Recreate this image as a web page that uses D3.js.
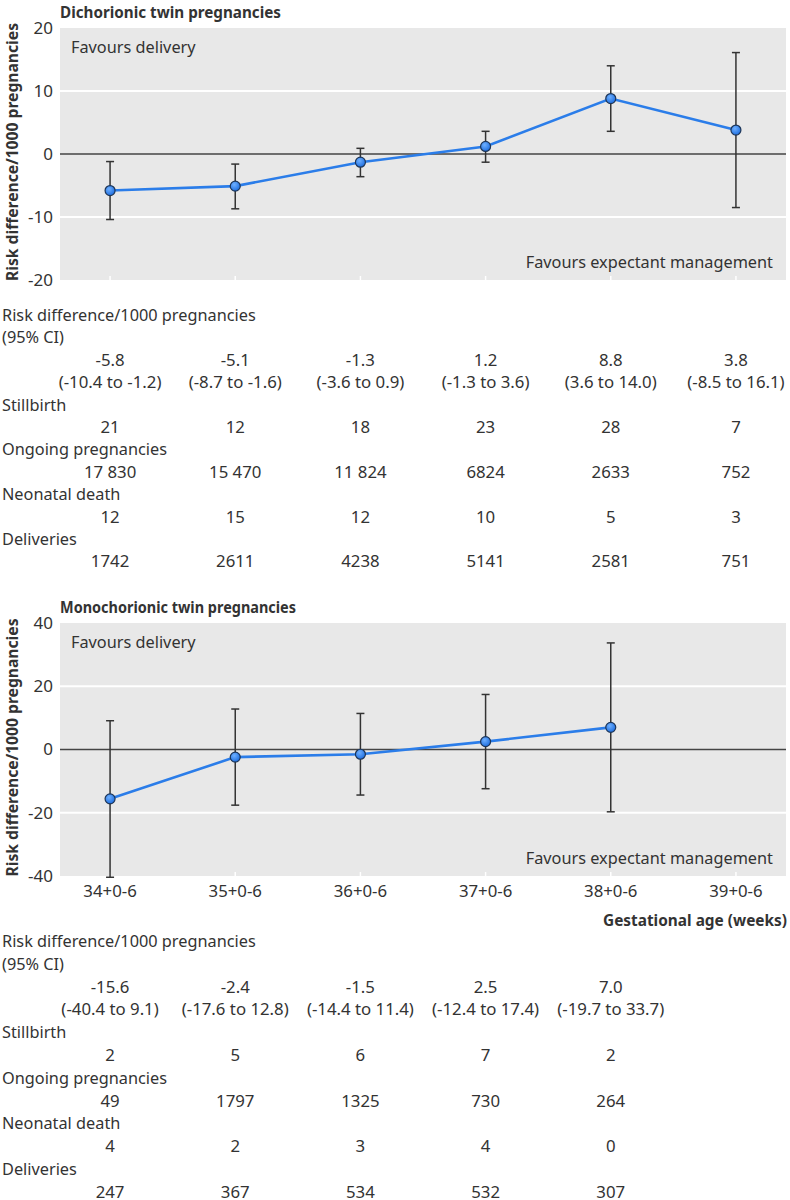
<!DOCTYPE html>
<html>
<head>
<meta charset="utf-8">
<script src="https://cdn.jsdelivr.net/npm/d3@7"></script>
<style>
  body { margin: 0; background: #fff; }
  svg text { font-family: "Noto Sans", sans-serif; fill: #333; }
</style>
</head>
<body>
<script>
// gestational age categories
const weeks = ["34+0-6", "35+0-6", "36+0-6", "37+0-6", "38+0-6", "39+0-6"];

// dichorionic twins
const diEst = [-5.8, -5.1, -1.3, 1.2, 8.8, 3.8];
const diLow = [-10.4, -8.7, -3.6, -1.3, 3.6, -8.5];
const diHigh = [-1.2, -1.6, 0.9, 3.6, 14.0, 16.1];
const diStillbirth = ["21", "12", "18", "23", "28", "7"];
const diOngoing = ["17 830", "15 470", "11 824", "6824", "2633", "752"];
const diNeonatal = ["12", "15", "12", "10", "5", "3"];
const diDeliveries = ["1742", "2611", "4238", "5141", "2581", "751"];
const diTicks = [20, 10, 0, -10, -20];

// monochorionic twins
const moEst = [-15.6, -2.4, -1.5, 2.5, 7.0];
const moLow = [-40.4, -17.6, -14.4, -12.4, -19.7];
const moHigh = [9.1, 12.8, 11.4, 17.4, 33.7];
const moStillbirth = ["2", "5", "6", "7", "2"];
const moOngoing = ["49", "1797", "1325", "730", "264"];
const moNeonatal = ["4", "2", "3", "4", "0"];
const moDeliveries = ["247", "367", "534", "532", "307"];
const moTicks = [40, 20, 0, -20, -40];

const width = 790, height = 1200;
const left = 60, right = 786;
const fs = 16.3;   // labels
const fv = 16.8;   // table numbers

const svg = d3.select("body").append("svg")
  .attr("width", width).attr("height", height);

const defs = svg.append("defs");
const grad = defs.append("radialGradient").attr("id", "dot")
  .attr("cx", "40%").attr("cy", "35%").attr("r", "65%");
grad.append("stop").attr("offset", "0%").attr("stop-color", "#6fb0ff");
grad.append("stop").attr("offset", "100%").attr("stop-color", "#1f6fe0");

const x = d3.scalePoint().domain(weeks).range([left, right]).padding(0.4);

// plain hyphen for negatives, as in the original
function fmt(v) { return v.toFixed(1); }

function drawPanel(p) {
  const g = svg.append("g");
  const y = d3.scaleLinear().domain([p.ticks[p.ticks.length - 1], p.ticks[0]])
    .range([p.bottom, p.top]);

  g.append("text").attr("x", left).attr("y", p.top - 10)
    .attr("font-size", 15.5).attr("font-weight", "bold").attr("fill", "#222")
    .attr("textLength", p.titleLen).attr("lengthAdjust", "spacingAndGlyphs")
    .text(p.title);

  g.append("rect").attr("x", left).attr("y", p.top)
    .attr("width", right - left).attr("height", p.bottom - p.top)
    .attr("fill", "#e8e8e8");

  // white grid lines
  g.selectAll(".grid").data(p.ticks.filter(t => t !== 0 && t !== p.ticks[0] && t !== p.ticks[p.ticks.length - 1]))
    .join("line")
    .attr("x1", left).attr("x2", right)
    .attr("y1", d => y(d)).attr("y2", d => y(d))
    .attr("stroke", "#fff").attr("stroke-width", 2);

  // white tick marks at the bottom
  g.selectAll(".xt").data(weeks).join("line")
    .attr("x1", d => x(d)).attr("x2", d => x(d))
    .attr("y1", p.bottom - 4).attr("y2", p.bottom)
    .attr("stroke", "#fff").attr("stroke-width", 1.5);

  g.append("line").attr("x1", left).attr("x2", right)
    .attr("y1", y(0)).attr("y2", y(0))
    .attr("stroke", "#444").attr("stroke-width", 1.5);

  const ya = g.append("g").attr("transform", `translate(${left},0)`)
    .call(d3.axisLeft(y).tickValues(p.ticks).tickSize(0).tickPadding(7)
      .tickFormat(d => String(d)));
  ya.select(".domain").remove();
  ya.selectAll("text").attr("font-size", 17).attr("fill", "#333")
    .style("font-family", "'Noto Sans', sans-serif");

  g.append("text")
    .attr("transform", `translate(18,${(p.top + p.bottom) / 2 - 2}) rotate(-90)`)
    .attr("text-anchor", "middle").attr("font-size", 15.5).attr("font-weight", "bold")
    .attr("fill", "#222").attr("textLength", 258).attr("lengthAdjust", "spacingAndGlyphs")
    .text("Risk difference/1000 pregnancies");

  g.append("text").attr("x", left + 11).attr("y", p.top + 25)
    .attr("font-size", fs).text("Favours delivery");
  g.append("text").attr("x", right - 13).attr("y", p.bottom - 12)
    .attr("text-anchor", "end").attr("font-size", fs).text("Favours expectant management");

  const pts = p.est.map((e, i) => ({ k: weeks[i], e: e, lo: p.low[i], hi: p.high[i] }));

  // error bars
  const eb = g.selectAll(".eb").data(pts).join("g");
  eb.append("line").attr("x1", d => x(d.k)).attr("x2", d => x(d.k))
    .attr("y1", d => y(d.lo)).attr("y2", d => y(d.hi))
    .attr("stroke", "#333").attr("stroke-width", 1.5);
  eb.append("line").attr("x1", d => x(d.k) - 4).attr("x2", d => x(d.k) + 4)
    .attr("y1", d => y(d.lo)).attr("y2", d => y(d.lo))
    .attr("stroke", "#333").attr("stroke-width", 1.5);
  eb.append("line").attr("x1", d => x(d.k) - 4).attr("x2", d => x(d.k) + 4)
    .attr("y1", d => y(d.hi)).attr("y2", d => y(d.hi))
    .attr("stroke", "#333").attr("stroke-width", 1.5);

  g.append("path").datum(pts)
    .attr("d", d3.line().x(d => x(d.k)).y(d => y(d.e)))
    .attr("fill", "none").attr("stroke", "#2b7de9").attr("stroke-width", 2.6);

  g.selectAll(".dot").data(pts).join("circle")
    .attr("cx", d => x(d.k)).attr("cy", d => y(d.e)).attr("r", 5)
    .attr("fill", "url(#dot)").attr("stroke", "#1d3557").attr("stroke-width", 1.2);

  if (p.xLabels) {
    g.selectAll(".xl").data(weeks).join("text")
      .attr("x", d => x(d)).attr("y", p.bottom + 21)
      .attr("text-anchor", "middle").attr("font-size", fv).text(d => d);
    g.append("text").attr("x", 787).attr("y", p.bottom + 50)
      .attr("text-anchor", "end").attr("font-size", 15.5).attr("font-weight", "bold")
      .attr("fill", "#222").attr("textLength", 184).attr("lengthAdjust", "spacingAndGlyphs")
      .text("Gestational age (weeks)");
  }

  // table below
  const ty = p.tableTop, dy = p.rowStep;
  const rows = [
    { label: ["Risk difference/1000 pregnancies", "(95% CI)"],
      vals: [p.est.map(fmt), p.est.map((e, i) => `(${fmt(p.low[i])} to ${fmt(p.high[i])})`)] },
    { label: ["Stillbirth"], vals: [p.still] },
    { label: ["Ongoing pregnancies"], vals: [p.ongoing] },
    { label: ["Neonatal death"], vals: [p.neonatal] },
    { label: ["Deliveries"], vals: [p.deliveries] }
  ];
  let line = 0;
  rows.forEach(r => {
    r.label.forEach(l => {
      g.append("text").attr("x", 2).attr("y", ty + line * dy)
        .attr("font-size", fs).text(l);
      line++;
    });
    r.vals.forEach(vs => {
      g.selectAll(null).data(vs).join("text")
        .attr("x", (d, i) => x(weeks[i])).attr("y", ty + line * dy)
        .attr("text-anchor", "middle").attr("font-size", fv).text(d => d);
      line++;
    });
  });
}

drawPanel({
  title: "Dichorionic twin pregnancies", titleLen: 221, top: 28, bottom: 280, ticks: diTicks,
  est: diEst, low: diLow, high: diHigh,
  still: diStillbirth, ongoing: diOngoing, neonatal: diNeonatal, deliveries: diDeliveries,
  xLabels: false, tableTop: 321, rowStep: 22.4
});

drawPanel({
  title: "Monochorionic twin pregnancies", titleLen: 236, top: 623, bottom: 876, ticks: moTicks,
  est: moEst, low: moLow, high: moHigh,
  still: moStillbirth, ongoing: moOngoing, neonatal: moNeonatal, deliveries: moDeliveries,
  xLabels: true, tableTop: 947, rowStep: 22.8
});
</script>
</body>
</html>
